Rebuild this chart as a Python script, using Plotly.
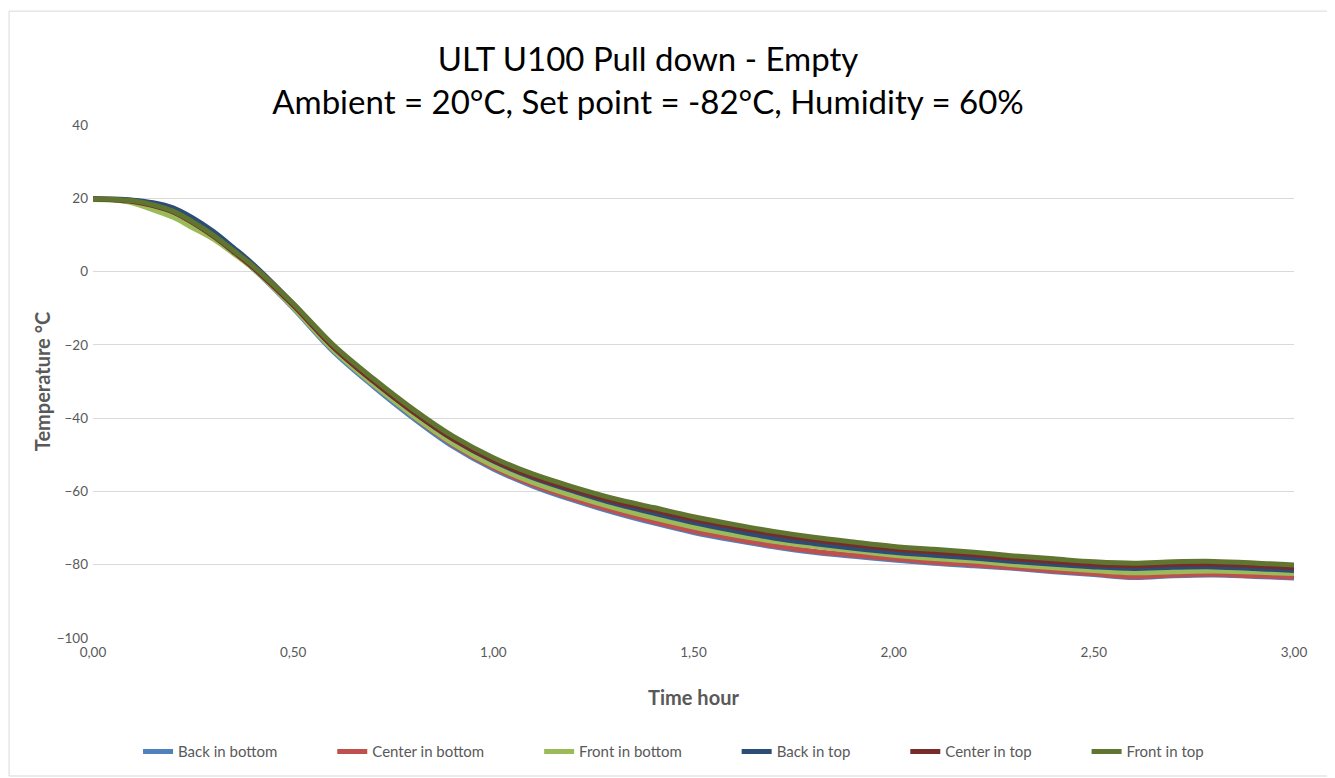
import plotly.graph_objects as go

# time in hours
time_h = [0.00, 0.05, 0.10, 0.15, 0.20, 0.25, 0.30, 0.35, 0.40, 0.50,
          0.60, 0.70, 0.80, 0.90, 1.00, 1.10, 1.20, 1.30, 1.40, 1.50,
          1.60, 1.70, 1.80, 1.90, 2.00, 2.10, 2.20, 2.30, 2.40, 2.50,
          2.60, 2.70, 2.80, 2.90, 3.00]

back_bottom = [19.8, 19.6, 19.0, 17.6, 15.8, 12.9, 9.4, 5.3, 0.8, -10.0,
               -21.8, -31.3, -40.0, -47.8, -53.9, -58.6, -62.4, -65.7, -68.6, -71.2,
               -73.3, -75.1, -76.6, -77.7, -78.7, -79.6, -80.3, -81.0, -81.9, -82.7,
               -83.5, -83.0, -82.8, -83.2, -83.6]
center_bottom = [19.8, 19.7, 19.2, 18.2, 16.6, 13.7, 10.3, 6.2, 1.8, -8.9,
                 -20.6, -30.4, -39.5, -47.3, -53.5, -58.2, -62.0, -65.3, -68.2, -70.8,
                 -72.9, -74.8, -76.3, -77.4, -78.4, -79.3, -80.0, -80.8, -81.7, -82.5,
                 -83.3, -82.8, -82.6, -83.0, -83.4]
front_bottom = [19.7, 19.5, 18.7, 16.8, 14.8, 11.9, 8.9, 5.0, 0.8, -9.8,
                -21.4, -30.8, -39.4, -47.0, -53.0, -57.6, -61.2, -64.4, -67.2, -69.7,
                -71.8, -73.6, -75.0, -76.2, -77.4, -78.3, -79.0, -80.0, -80.8, -81.6,
                -82.2, -81.9, -81.7, -82.0, -82.4]
back_top = [19.9, 19.8, 19.5, 18.8, 17.4, 14.6, 11.0, 6.6, 2.0, -8.8,
            -20.4, -29.8, -38.3, -45.8, -51.7, -56.3, -59.9, -63.2, -65.9, -68.5,
            -70.7, -72.7, -74.2, -75.5, -76.6, -77.4, -78.2, -79.1, -79.9, -80.6,
            -81.0, -80.7, -80.6, -81.0, -81.6]
center_top = [19.8, 19.6, 19.1, 18.0, 16.3, 13.3, 9.7, 5.5, 1.1, -9.2,
              -20.6, -29.9, -38.3, -45.7, -51.5, -56.0, -59.5, -62.6, -65.1, -67.6,
              -69.7, -71.6, -73.2, -74.5, -75.7, -76.5, -77.3, -78.3, -79.1, -79.9,
              -80.3, -79.9, -79.8, -80.2, -80.8]
front_top = [19.8, 19.7, 19.3, 18.2, 16.5, 13.5, 10.0, 5.8, 1.5, -8.7,
             -20.0, -29.2, -37.6, -45.0, -50.8, -55.3, -58.8, -61.9, -64.4, -66.9,
             -69.0, -70.9, -72.5, -73.8, -75.0, -75.8, -76.6, -77.6, -78.4, -79.2,
             -79.6, -79.2, -79.1, -79.5, -80.1]

series = [
    ("Back in bottom", back_bottom, "#4F81BD"),
    ("Center in bottom", center_bottom, "#C0504D"),
    ("Front in bottom", front_bottom, "#9BBB59"),
    ("Back in top", back_top, "#2C4D75"),
    ("Center in top", center_top, "#772C2A"),
    ("Front in top", front_top, "#5F7530"),
]

FONT = "Lato"
GREY = "#595959"
PAD = "\u00a0" * 13  # spacing between legend entries

fig = go.Figure()
for i, (name, vals, color) in enumerate(series):
    fig.add_trace(
        go.Scatter(
            x=time_h,
            y=vals,
            name=name + (PAD if i < len(series) - 1 else ""),
            mode="lines",
            line=dict(color=color, width=5, shape="spline", smoothing=1.0),
        )
    )

fig.update_layout(
    width=1327,
    height=770,
    paper_bgcolor="white",
    plot_bgcolor="white",
    separators=", ",
    margin=dict(l=85, r=41, t=117, b=140),
    font=dict(family=FONT, color=GREY, size=13),
    title=dict(
        text="ULT U100 Pull down - Empty<br>Ambient = 20°C, Set point = -82°C, Humidity = 60%",
        x=0.4823,
        xref="container",
        xanchor="center",
        y=0.918,
        yref="container",
        yanchor="middle",
        font=dict(family=FONT, size=33, color="#000000"),
    ),
    legend=dict(
        orientation="h",
        x=0.098,
        xanchor="left",
        xref="container",
        y=0.034,
        yref="container",
        yanchor="middle",
        font=dict(family=FONT, size=15, color=GREY),
    ),
    shapes=[
        dict(
            type="rect",
            xref="paper",
            yref="paper",
            x0=-0.0699,
            x1=1.0308,
            y0=-0.269,
            y1=1.222,
            line=dict(color="#D9D9D9", width=1),
            fillcolor="rgba(0,0,0,0)",
            layer="below",
        )
    ],
)

fig.update_xaxes(
    range=[0, 3],
    dtick=0.5,
    tick0=0,
    tickformat=".2f",
    showgrid=False,
    zeroline=False,
    showline=False,
    ticks="",
    ticklabelstandoff=4,
    tickfont=dict(size=13.5, color=GREY),
    title=dict(text="<b>Time hour</b>", font=dict(size=20, color=GREY), standoff=32),
)
fig.update_yaxes(
    range=[-100, 40],
    dtick=20,
    tick0=0,
    showgrid=True,
    gridcolor="#D9D9D9",
    gridwidth=1,
    zeroline=False,
    showline=False,
    ticks="",
    ticklabelstandoff=4,
    tickfont=dict(size=13.5, color=GREY),
    title=dict(text="<b>Temperature °C</b>", font=dict(size=20, color=GREY), standoff=0),
)

fig.write_html("out.html")
